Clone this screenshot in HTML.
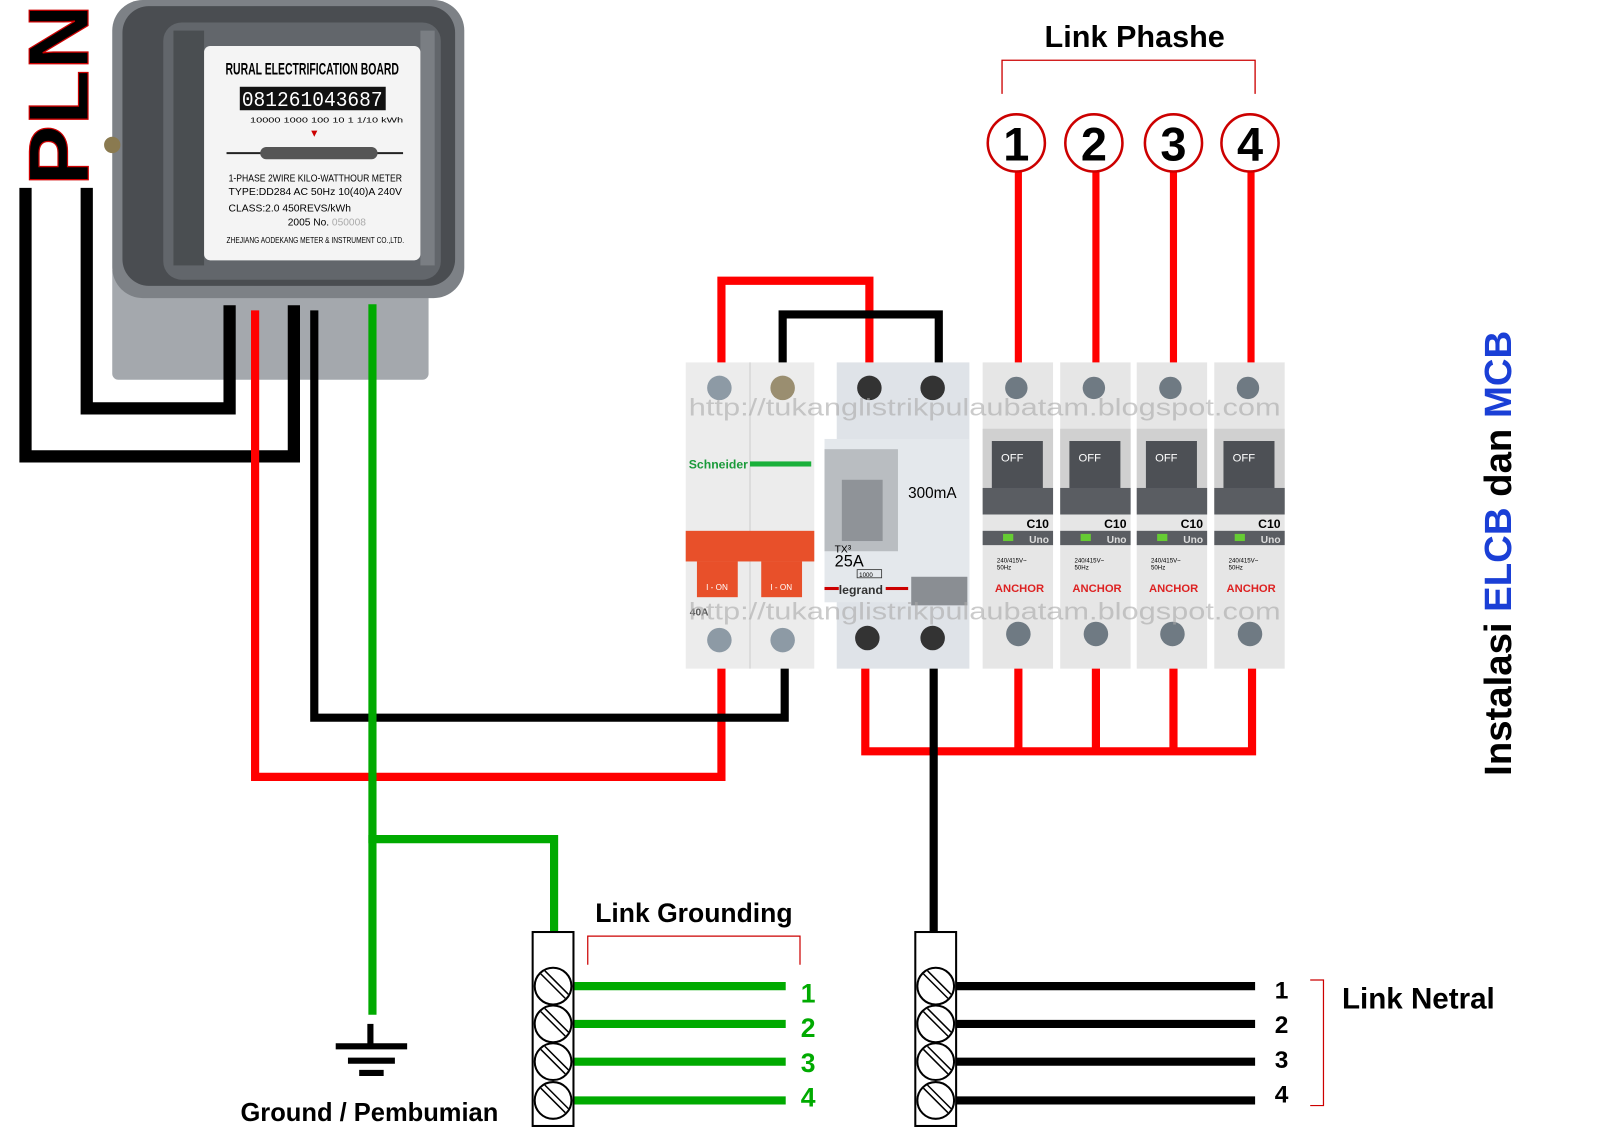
<!DOCTYPE html>
<html><head><meta charset="utf-8"><style>
html,body{margin:0;padding:0;background:#fff;}
svg{display:block;font-family:"Liberation Sans",Arial,sans-serif;}
</style></head><body>
<svg width="1600" height="1127" viewBox="0 0 1568 1104" preserveAspectRatio="none" xmlns="http://www.w3.org/2000/svg">
<rect width="1568" height="1104" fill="#fff"/>
<!-- PLN -->
<text transform="translate(86,182) rotate(-90)" font-size="84" font-weight="bold" fill="#000" stroke="#c00" stroke-width="1.2" textLength="178" lengthAdjust="spacingAndGlyphs">PLN</text>
<!-- meter -->
<rect x="110" y="260" width="310" height="112" rx="6" fill="#a4a8ad"/>
<rect x="110" y="0" width="345" height="292" rx="30" fill="#7d8186"/>
<rect x="120" y="6" width="326" height="274" rx="26" fill="#4a4d51"/>
<rect x="160" y="22" width="272" height="252" rx="18" fill="#62666b"/>
<rect x="170" y="30" width="30" height="230" fill="#3a3d40" opacity="0.6"/>
<rect x="412" y="30" width="14" height="230" fill="#8a8e92" opacity="0.6"/>
<circle cx="110" cy="142" r="8" fill="#8a7a50"/>
<rect x="200" y="45" width="212" height="210" rx="6" fill="#f4f4f4"/>
<text x="306" y="73" font-size="16" font-weight="bold" text-anchor="middle" textLength="170" lengthAdjust="spacingAndGlyphs">RURAL ELECTRIFICATION BOARD</text>
<rect x="235" y="85" width="143" height="23" fill="#111"/>
<text x="306" y="104" font-size="21" fill="#fff" text-anchor="middle" font-family="Liberation Mono" textLength="138" lengthAdjust="spacingAndGlyphs">081261043687</text>
<text x="245" y="120" font-size="7" textLength="150" lengthAdjust="spacingAndGlyphs">10000 1000 100 10 1 1/10 kWh</text>
<path d="M305 128 l6 0 l-3 6z" fill="#c00"/>
<line x1="222" y1="150" x2="395" y2="150" stroke="#222" stroke-width="2"/>
<rect x="255" y="144" width="115" height="12" rx="6" fill="#555"/>
<text x="224" y="178" font-size="10" textLength="170" lengthAdjust="spacingAndGlyphs">1-PHASE 2WIRE KILO-WATTHOUR METER</text>
<text x="224" y="191" font-size="10" textLength="170" lengthAdjust="spacingAndGlyphs">TYPE:DD284  AC 50Hz 10(40)A 240V</text>
<text x="224" y="207" font-size="10" textLength="120" lengthAdjust="spacingAndGlyphs">CLASS:2.0   450REVS/kWh</text>
<text x="282" y="221" font-size="10">2005  No. <tspan fill="#aaa">050008</tspan></text>
<text x="222" y="238" font-size="8" textLength="174" lengthAdjust="spacingAndGlyphs">ZHEJIANG AODEKANG METER &amp; INSTRUMENT CO.,LTD.</text>
<!-- wires -->
<g fill="none" stroke-linejoin="miter" stroke-linecap="square">
<path d="M25 190 V447 H288 V305" stroke="#000" stroke-width="12"/>
<path d="M85 190 V400 H225 V305" stroke="#000" stroke-width="12"/>
<path d="M250 308 V761 H707 V655" stroke="#f00" stroke-width="8"/>
<path d="M308 308 V703 H769 V655" stroke="#000" stroke-width="8"/>
<path d="M365 302 V990" stroke="#0a0" stroke-width="8"/>
<path d="M365 822 H543 V915" stroke="#0a0" stroke-width="8"/>
<path d="M707 360 V275 H852 V360" stroke="#f00" stroke-width="8"/>
<path d="M767 360 V308 H920 V360" stroke="#000" stroke-width="8"/>
<path d="M848 655 V736 H1227 V655 M998 655 V736 M1074 655 V736 M1150 655 V736" stroke="#f00" stroke-width="8"/>
<path d="M915 655 V915" stroke="#000" stroke-width="8"/>
<path d="M998 168 V360 M1074 168 V360 M1150 168 V360 M1226 168 V360" stroke="#f00" stroke-width="7"/>
</g>
<!-- 2P MCB -->
<rect x="672" y="355" width="126" height="300" fill="#ececec"/>
<line x1="735" y1="355" x2="735" y2="655" stroke="#ccc"/>
<circle cx="705" cy="380" r="12" fill="#8d9aa5"/><circle cx="767" cy="380" r="12" fill="#9a8e70"/>
<text x="675" y="459" font-size="12" font-weight="bold" fill="#1a9a3a">Schneider</text>
<rect x="735" y="452" width="60" height="5" fill="#1ab03a"/>
<rect x="672" y="520" width="126" height="30" fill="#e8502a"/>
<rect x="683" y="550" width="40" height="35" fill="#e8502a"/><rect x="746" y="550" width="40" height="35" fill="#e8502a"/>
<text x="692" y="578" font-size="8" fill="#fff">I - ON</text><text x="755" y="578" font-size="8" fill="#fff">I - ON</text>
<text x="676" y="603" font-size="10" font-weight="bold" fill="#555">40A</text>
<circle cx="705" cy="627" r="12" fill="#8d9aa5"/><circle cx="767" cy="627" r="12" fill="#8d9aa5"/>
<!-- ELCB -->
<rect x="820" y="355" width="130" height="300" fill="#dfe3e8"/>
<rect x="808" y="430" width="142" height="160" fill="#e4e8ec"/>
<circle cx="852" cy="380" r="12" fill="#333"/><circle cx="914" cy="380" r="12" fill="#333"/>
<rect x="808" y="440" width="72" height="100" fill="#b9bdc1"/>
<rect x="825" y="470" width="40" height="60" fill="#8f9398"/>
<text x="890" y="488" font-size="15">300mA</text>
<text x="818" y="541" font-size="10">TX³</text>
<text x="818" y="555" font-size="16">25A</text>
<rect x="840" y="558" width="24" height="8" fill="none" stroke="#333" stroke-width="0.8"/>
<text x="842" y="565" font-size="6">1000</text>
<text x="822" y="582" font-size="12" font-weight="bold" fill="#333">legrand</text>
<rect x="808" y="575" width="14" height="3" fill="#c00"/><rect x="868" y="575" width="22" height="3" fill="#c00"/>
<rect x="893" y="565" width="55" height="28" fill="#8a8e93"/>
<circle cx="850" cy="625" r="12" fill="#333"/><circle cx="914" cy="625" r="12" fill="#333"/>
<!-- MCBs -->
<g id="m">
<rect x="963" y="355" width="69" height="300" fill="#e6e6e6"/>
<circle cx="996" cy="380" r="11" fill="#6f7a83"/>
<rect x="963" y="420" width="69" height="80" fill="#d0d0d0"/>
<rect x="972" y="432" width="50" height="48" fill="#4d5055"/>
<text x="981" y="452" font-size="11" fill="#fff">OFF</text>
<rect x="963" y="478" width="69" height="26" fill="#5a5d62"/>
<text x="1028" y="517" font-size="12" font-weight="bold" text-anchor="end">C10</text>
<rect x="963" y="520" width="69" height="14" fill="#5a5d62"/>
<rect x="983" y="523" width="10" height="7" fill="#6c3"/>
<text x="1028" y="532" font-size="10" font-weight="bold" fill="#ddd" text-anchor="end">Uno</text>
<text x="977" y="551" font-size="6">240/415V~</text>
<text x="977" y="558" font-size="6">50Hz</text>
<text x="975" y="580" font-size="11" font-weight="bold" fill="#d22">ANCHOR</text>
<circle cx="998" cy="621" r="12" fill="#6f7a83"/>
</g>
<use href="#m" x="76"/><use href="#m" x="151"/><use href="#m" x="227"/>
<text x="965" y="407" font-size="24" fill="#aaa" opacity="0.6" text-anchor="middle" textLength="580" lengthAdjust="spacingAndGlyphs">http://tukanglistrikpulaubatam.blogspot.com</text>
<text x="965" y="607" font-size="24" fill="#aaa" opacity="0.6" text-anchor="middle" textLength="580" lengthAdjust="spacingAndGlyphs">http://tukanglistrikpulaubatam.blogspot.com</text>
<!-- Link Phashe -->
<text x="1112" y="46" font-size="30" font-weight="bold" text-anchor="middle">Link Phashe</text>
<path d="M982 92 V59 H1230 V92" fill="none" stroke="#c00" stroke-width="1.3"/>
<g fill="#fff" stroke="#c00" stroke-width="2.5">
<circle cx="996" cy="140" r="28"/><circle cx="1072" cy="140" r="28"/><circle cx="1150" cy="140" r="28"/><circle cx="1225" cy="140" r="28"/></g>
<g font-size="46" font-weight="bold" text-anchor="middle">
<text x="996" y="157">1</text><text x="1072" y="157">2</text><text x="1150" y="157">3</text><text x="1225" y="157">4</text></g>
<!-- vertical title -->
<text transform="translate(1481,760) rotate(-90)" font-size="37" font-weight="bold" textLength="436" lengthAdjust="spacingAndGlyphs">Instalasi <tspan fill="#1a3fd6">ELCB</tspan> dan <tspan fill="#1a3fd6">MCB</tspan></text>
<!-- grounding -->
<g stroke="#000" stroke-width="6"><line x1="363" y1="1003" x2="363" y2="1023"/><line x1="329" y1="1025" x2="399" y2="1025"/><line x1="341" y1="1039" x2="387" y2="1039"/><line x1="352" y1="1051" x2="376" y2="1051"/></g>
<text x="362" y="1098" font-size="25" font-weight="bold" text-anchor="middle">Ground / Pembumian</text>
<text x="680" y="903" font-size="26" font-weight="bold" text-anchor="middle">Link Grounding</text>
<path d="M576 945 V917 H784 V945" fill="none" stroke="#c00" stroke-width="1.2"/>
<g stroke="#0a0" stroke-width="8"><line x1="560" y1="966" x2="770" y2="966"/><line x1="560" y1="1003" x2="770" y2="1003"/><line x1="560" y1="1040" x2="770" y2="1040"/><line x1="560" y1="1078" x2="770" y2="1078"/></g>
<g font-size="26" font-weight="bold" fill="#0a0" text-anchor="middle"><text x="792" y="982">1</text><text x="792" y="1016">2</text><text x="792" y="1050">3</text><text x="792" y="1084">4</text></g>
<!-- neutral -->
<g stroke="#000" stroke-width="8"><line x1="935" y1="966" x2="1230" y2="966"/><line x1="935" y1="1003" x2="1230" y2="1003"/><line x1="935" y1="1040" x2="1230" y2="1040"/><line x1="935" y1="1078" x2="1230" y2="1078"/></g>
<g font-size="24" font-weight="bold" text-anchor="middle"><text x="1256" y="978">1</text><text x="1256" y="1012">2</text><text x="1256" y="1046">3</text><text x="1256" y="1080">4</text></g>
<path d="M1284 960 H1297 V1083 H1284" fill="none" stroke="#c00" stroke-width="1.2"/>
<text x="1390" y="988" font-size="29" font-weight="bold" text-anchor="middle">Link Netral</text>
<!-- terminal blocks -->
<defs><g id="tb">
<rect x="0" y="0" width="40" height="190" fill="#fff" stroke="#000" stroke-width="2"/>
<g fill="#fff" stroke="#000" stroke-width="2">
<circle cx="20" cy="53" r="18"/><circle cx="20" cy="90" r="18"/><circle cx="20" cy="127" r="18"/><circle cx="20" cy="165" r="18"/></g>
<g stroke="#000" stroke-width="1.5">
<path d="M8 41 L32 65 M12 38 L35 61 M8 78 L32 102 M12 75 L35 98 M8 115 L32 139 M12 112 L35 135 M8 153 L32 177 M12 150 L35 173"/></g>
</g></defs>
<use href="#tb" x="522" y="913"/>
<use href="#tb" x="897" y="913"/>
</svg>
</body></html>
